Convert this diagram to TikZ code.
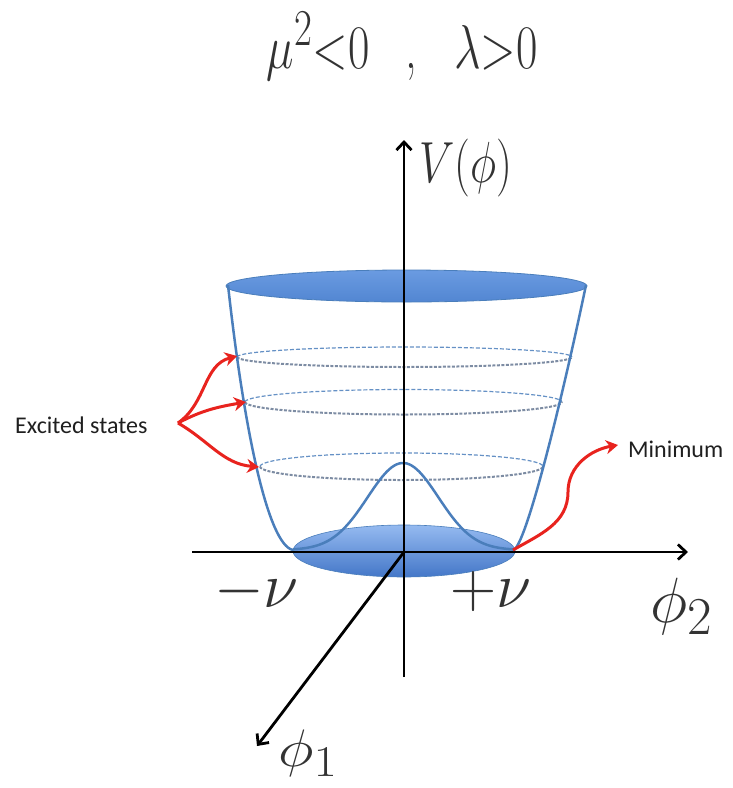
\documentclass[tikz,border=0pt]{standalone}
\usepackage{fontspec}
\usepackage{graphicx}
\usetikzlibrary{arrows.meta}
\newfontfamily\calib{Carlito}
\definecolor{bowl}{HTML}{4A7EBB}
\definecolor{ellTop}{HTML}{6A9BE1}
\definecolor{ellBot}{HTML}{5286D2}
\definecolor{baseTop}{HTML}{95BAF0}
\definecolor{baseBot}{HTML}{4477C8}
\definecolor{redarr}{HTML}{E8231E}
\definecolor{dashfront}{HTML}{7D8CA3}
\definecolor{txt}{HTML}{333333}
\newcommand\bgm[3]{\scalebox{#1}[#2]{\fontsize{24.88}{30}\selectfont #3}}
\tikzset{
  axisline/.style={line width=2.8pt, black, -{Straight Barb[length=8pt,width=15pt]}},
  bowlline/.style={draw=bowl, line width=2.5pt},
  backarc/.style={draw=bowl!85, line width=1.2pt, dash pattern=on 4pt off 2pt},
  frontarc/.style={draw=dashfront, line width=2pt, dash pattern=on 3pt off 1.5pt},
  redarrow/.style={draw=redarr, line width=3pt, -{Stealth[length=12pt,width=14pt]}},
  bigmath/.style={inner sep=0, text=txt},
  note/.style={inner sep=0, text=black!88, font=\calib\fontsize{24}{28}\selectfont},
}
\begin{document}
\begin{tikzpicture}[x=1pt,y=-1pt]
\useasboundingbox (0,0) rectangle (732,788);
% top rim
\path[top color=ellTop, bottom color=ellBot, draw=bowl, line width=0.8pt]
  (406.5,286) ellipse [x radius=180.5, y radius=16];
% bottom disc
\path[top color=baseTop, bottom color=baseBot, draw=bowl, line width=0.6pt]
  (404,551) ellipse [x radius=111, y radius=26];
% excited-state rings (back = upper, front = lower)
\draw[backarc]  (237,357) arc [start angle=180, end angle=360, x radius=167.5, y radius=10];
\draw[frontarc] (237,357) arc [start angle=180, end angle=0,   x radius=167.5, y radius=10];
\draw[backarc]  (245,402) arc [start angle=180, end angle=360, x radius=158.5, y radius=12.5];
\draw[frontarc] (245,402) arc [start angle=180, end angle=0,   x radius=158.5, y radius=12.5];
\draw[backarc]  (260,466.5) arc [start angle=180, end angle=360, x radius=141.5, y radius=13.5];
\draw[frontarc] (260,466.5) arc [start angle=180, end angle=0,   x radius=141.5, y radius=13.5];
% bowl sides
\draw[bowlline] (228,285) .. controls (244,430) and (268,545) .. (293,550);
\draw[bowlline] (586,285) .. controls (562,400) and (525,550) .. (513,550);
% central hump
\draw[bowlline] plot[domain=293:513, samples=90] (\x, {550 - 87*exp(-pow((\x-403)/50,2))});
% axes
\coordinate (O) at (404,552);
\coordinate (Vtip) at (404,140);
\coordinate (Vbot) at (404,677);
\coordinate (Hl) at (192,552);
\coordinate (Hr) at (688,552);
\coordinate (Dtip) at (257,746);
\draw[axisline] (Vbot) -- (Vtip);
\draw[axisline] (Hl) -- (Hr);
\draw[axisline] (O) -- (Dtip);
% labels
\node[bigmath, anchor=base] (title) at (402,68)
  {\bgm{1.87}{2.49}{$\mu^{2}{<}0$\hspace{19pt},\hspace{20pt}$\lambda{>}0$}};
\node[bigmath, anchor=base west] (vlab) at (419,182)
  {\bgm{1.8}{2.33}{$V(\phi)$}};
\node[bigmath, anchor=base west] (mnu) at (214,607) {\bgm{2.57}{2.57}{$-\nu$}};
\node[bigmath, anchor=base west] (pnu) at (450,607) {\bgm{2.57}{2.57}{$+\nu$}};
\node[bigmath, anchor=base west] (phi2) at (650,622) {\bgm{2.57}{2.57}{$\phi_2$}};
\node[bigmath, anchor=base west] (phi1) at (278,766) {\bgm{2.45}{2.12}{$\phi_1$}};
\node[note, anchor=base west] (exc) at (15,433) {Excited states};
\node[note, anchor=base west] (minl) at (628,457) {Minimum};
% red arrows
\coordinate (es) at (178,423);
\coordinate (e1) at (237,356);
\coordinate (e2) at (246,402);
\coordinate (e3) at (259,467);
\draw[redarrow] (es) to[out=35,in=195] (e1);
\draw[redarrow] (es) to[out=28,in=190] (e2);
\draw[redarrow] (es) to[out=-30,in=175] (e3);
\coordinate (minpt) at (513,550);
\coordinate (minmid) at (568,492);
\coordinate (mintip) at (618,445);
\draw[redarrow] (minpt) to[out=30,in=-90] (minmid) to[out=90,in=190] (mintip);
\end{tikzpicture}
\end{document}
